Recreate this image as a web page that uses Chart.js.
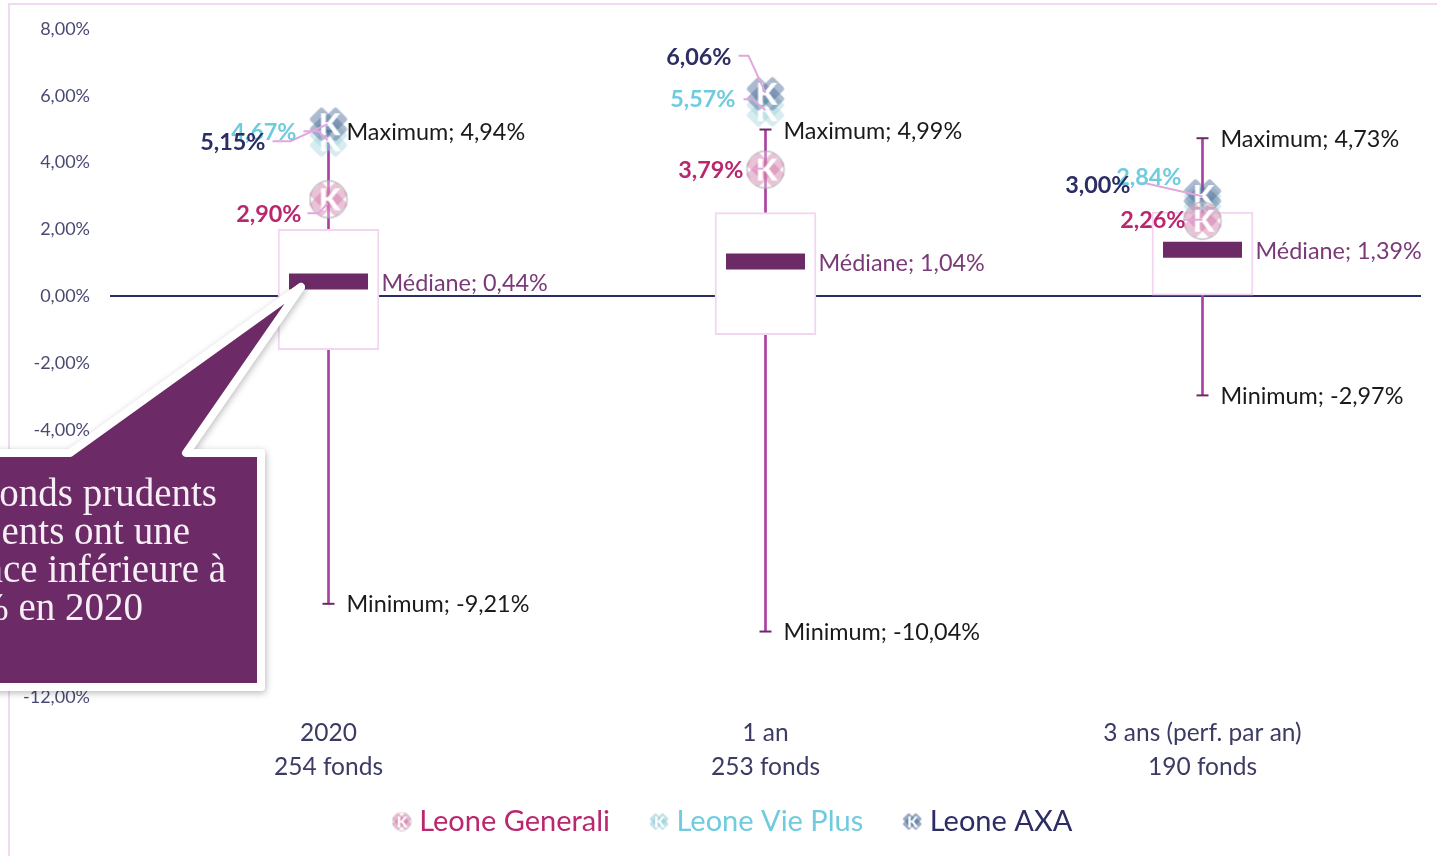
<!DOCTYPE html>
<html lang="fr">
<head>
<meta charset="utf-8">
<title>Performances des fonds prudents</title>
<script src="https://cdn.jsdelivr.net/npm/chart.js@4/dist/chart.umd.js"></script>
<style>
  html, body { margin: 0; padding: 0; background: #fff; overflow: hidden; }
  canvas { display: block; }
</style>
</head>
<body>
<canvas id="chart" width="1437" height="856"></canvas>
<script>
// Data
const categories = [["2020", "254 fonds"], ["1 an", "253 fonds"], ["3 ans (perf. par an)", "190 fonds"]];
const yTicks = [8, 6, 4, 2, 0, -2, -4, -6, -8, -10, -12];
const maximum = [4.94, 4.99, 4.73];
const minimum = [-9.21, -10.04, -2.97];
const median = [0.44, 1.04, 1.39];
const boxTop = [2.0, 2.5, 2.52];
const boxBottom = [-1.6, -1.15, 0];
const generali = [2.90, 3.79, 2.26];
const viePlus = [4.67, 5.57, 2.84];
const axa = [5.15, 6.06, 3.00];
const calloutLines = ["fonds prudents", "ents ont une", "nce inférieure à", "% en 2020"];

const FONT = "Lato, 'Open Sans', sans-serif";
const pct = v => v.toFixed(2).replace(".", ",") + "%";

// The clover shaped "K" marker
function makeMarker(size, color, ring) {
  const c = document.createElement("canvas");
  c.width = c.height = size;
  const g = c.getContext("2d");
  const u = size / 40;
  g.translate(size / 2, size / 2);
  if (ring) {
    g.fillStyle = "rgba(255,255,255,0.35)";
    g.strokeStyle = "rgba(170,170,170,0.7)";
    g.lineWidth = 1.5 * u;
    g.beginPath();
    g.arc(0, 0, 18.5 * u, 0, Math.PI * 2);
    g.fill();
    g.stroke();
  }
  g.fillStyle = color;
  [[-7, -5], [7, -5], [-7, 5], [7, 5]].forEach(([dx, dy]) => {
    g.save();
    g.translate(dx * u, dy * u);
    g.rotate(Math.PI / 4);
    g.beginPath();
    g.roundRect(-9 * u, -9 * u, 18 * u, 18 * u, 3 * u);
    g.fill();
    g.restore();
  });
  g.fillStyle = "#fff";
  g.font = "900 " + 31 * u + "px Lato, sans-serif";
  g.textAlign = "center";
  g.textBaseline = "middle";
  g.fillText("K", 1 * u, 1 * u);
  return c;
}

const generaliColor = "#b9276f";
const vieColor = "#6fcbde";
const axaColor = "#2b2d63";
const generaliIcon = makeMarker(40, "rgba(205,110,160,0.42)", true);
const vieIcon = makeMarker(40, "rgba(150,205,215,0.38)", false);
const axaIcon = makeMarker(40, "rgba(80,110,155,0.48)", false);

// Marker labels: series value, text colour, right edge and centre of the label relative
// to the marker, then the bend of the leader line relative to the marker
const markerLabels = [
  { values: generali, color: generaliColor, place: [
    { dx: -27, dy: 15, bend: [[-21, 14], [-10, 14], [-1, 4]] },
    { dx: -22, dy: 1, bend: [[-13, -1], [-2, -1]] },
    { dx: -17, dy: 0, bend: [[-19, -1], [0, -1]] }] },
  { values: viePlus, color: vieColor, place: [
    { dx: -32, dy: -8, bend: [[-25, -9], [-10, -9], [-1, 0]] },
    { dx: -30, dy: -11, bend: [[-22, -11], [-13, -11], [0, 0]] },
    { dx: -21, dy: -24, bend: [[-65, -18], [-57, -18], [0, -5]] }] },
  { values: axa, color: axaColor, place: [
    { dx: -63, dy: 18, bend: [[-56, 17], [-38, 17], [-1, 0]] },
    { dx: -34, dy: -36, bend: [[-27, -38], [-17, -38], [0, -1]] },
    { dx: -72, dy: -11, bend: [] }] }
];

const framePlugin = {
  id: "frame",
  afterLayout(chart) {
    // legend sits right of the canvas centre and a bit higher in the reference
    chart.legend.left += 20;
    chart.legend.right += 20;
    chart.legend.top -= 10;
    chart.legend.bottom -= 10;
    // the x labels are clipped to the scale box, so let it reach the second line
    chart.scales.x.bottom = chart.height;
  },
  beforeDraw(chart) {
    const g = chart.ctx;
    g.save();
    g.strokeStyle = "#f2d9f2";
    g.lineWidth = 2;
    g.beginPath();
    g.moveTo(9, 856);
    g.lineTo(9, 4);
    g.lineTo(1437, 4);
    g.stroke();
    g.restore();
  }
};

const labelPlugin = {
  id: "valueLabels",
  afterDatasetsDraw(chart) {
    const g = chart.ctx;
    const x = chart.scales.x;
    const y = chart.scales.y;
    g.save();
    g.textBaseline = "middle";
    g.font = "23.4px " + FONT;
    g.textAlign = "left";
    categories.forEach((cat, i) => {
      const cx = x.getPixelForValue(i);
      g.fillStyle = "#1a1a1a";
      g.fillText("Maximum; " + pct(maximum[i]), cx + 18, y.getPixelForValue(maximum[i]) + 1.5);
      g.fillText("Minimum; " + pct(minimum[i]), cx + 18, y.getPixelForValue(minimum[i]) + 1);
      g.fillStyle = "#7a3a78";
      g.fillText("Médiane; " + pct(median[i]), cx + 53, y.getPixelForValue(median[i]) + 2);
    });
    // leader lines first, then the bold labels over them
    g.strokeStyle = "#e3a6dd";
    g.lineWidth = 2;
    markerLabels.forEach(series => {
      series.place.forEach((p, i) => {
        if (!p.bend.length) return;
        const cx = x.getPixelForValue(i);
        const cy = y.getPixelForValue(series.values[i]);
        g.beginPath();
        p.bend.forEach(([bx, by], k) => {
          if (k === 0) g.moveTo(cx + bx, cy + by);
          else g.lineTo(cx + bx, cy + by);
        });
        g.stroke();
      });
    });
    g.font = "bold 23.4px " + FONT;
    g.textAlign = "right";
    markerLabels.forEach(series => {
      g.fillStyle = series.color;
      series.place.forEach((p, i) => {
        const cx = x.getPixelForValue(i);
        const cy = y.getPixelForValue(series.values[i]);
        g.fillText(pct(series.values[i]), cx + p.dx, cy + p.dy);
      });
    });
    g.restore();
  }
};

const calloutPlugin = {
  id: "callout",
  afterDraw(chart) {
    const g = chart.ctx;
    const path = () => {
      g.beginPath();
      g.moveTo(-30, 453);
      g.lineTo(70, 453);
      g.lineTo(301, 287);
      g.lineTo(186, 453);
      g.lineTo(261, 453);
      g.lineTo(261, 687);
      g.lineTo(-30, 687);
      g.closePath();
    };
    g.save();
    g.lineJoin = "round";
    g.lineWidth = 8;
    g.strokeStyle = "#fff";
    g.shadowColor = "rgba(0,0,0,0.28)";
    g.shadowBlur = 7;
    g.shadowOffsetX = 1;
    g.shadowOffsetY = 2;
    path();
    g.stroke();
    g.shadowColor = "transparent";
    g.fillStyle = "#6c2a66";
    path();
    g.fill();
    g.stroke();
    g.fillStyle = "#f6eff6";
    g.font = "39px 'Liberation Serif', serif";
    g.textAlign = "right";
    g.textBaseline = "alphabetic";
    const ends = [217, 190, 226, 143];
    calloutLines.forEach((line, i) => {
      g.fillText(line, ends[i], 505.5 + i * 38.2);
    });
    g.restore();
  }
};

new Chart(document.getElementById("chart"), {
  type: "bar",
  plugins: [framePlugin, labelPlugin, calloutPlugin],
  data: {
    labels: categories,
    datasets: [
      {
        type: "line", label: "Leone Generali", data: generali, showLine: false, order: 1,
        pointStyle: generaliIcon, pointRadius: 20, pointHoverRadius: 20
      },
      {
        type: "line", label: "Leone AXA", data: axa, showLine: false, order: 2,
        pointStyle: axaIcon, pointRadius: 20, pointHoverRadius: 20
      },
      {
        type: "line", label: "Leone Vie Plus", data: viePlus, showLine: false, order: 3,
        pointStyle: vieIcon, pointRadius: 20, pointHoverRadius: 20
      },
      {
        type: "line", label: "Médiane", data: median, showLine: false, order: 4,
        pointStyle: "line", pointRadius: 39.5, pointBorderWidth: 16,
        pointBorderColor: "#6c2a66", pointBackgroundColor: "#6c2a66"
      },
      {
        label: "Boîte", order: 5, grouped: false, barThickness: 101,
        data: categories.map((c, i) => [boxBottom[i], boxTop[i]]),
        backgroundColor: "#fff", borderColor: "#f2d5f0", borderWidth: 2, borderSkipped: false
      },
      {
        type: "line", label: "Maximum", data: maximum, showLine: false, order: 6,
        pointStyle: "line", pointRadius: 6, pointBorderWidth: 2, pointBorderColor: "#6c2a66"
      },
      {
        type: "line", label: "Minimum", data: minimum, showLine: false, order: 6,
        pointStyle: "line", pointRadius: 6, pointBorderWidth: 2, pointBorderColor: "#6c2a66"
      },
      {
        label: "Étendue", order: 7, grouped: false, barThickness: 2,
        data: categories.map((c, i) => [minimum[i], maximum[i]]),
        backgroundColor: "#ab3fa3"
      }
    ]
  },
  options: {
    responsive: false,
    animation: false,
    events: [],
    layout: { autoPadding: false, padding: { left: 10, right: 16, top: 29, bottom: 0 } },
    plugins: {
      tooltip: { enabled: false },
      legend: {
        position: "bottom",
        labels: {
          usePointStyle: true,
          pointStyleWidth: 6,
          padding: 46,
          font: { family: FONT, size: 29 },
          generateLabels: () => [
            { text: "Leone Generali", fontColor: generaliColor, pointStyle: makeMarker(20, "rgba(205,110,160,0.5)", true), datasetIndex: 0, lineWidth: 0 },
            { text: "Leone Vie Plus", fontColor: vieColor, pointStyle: makeMarker(20, "rgba(150,205,215,0.6)", false), datasetIndex: 2, lineWidth: 0 },
            { text: "Leone AXA", fontColor: axaColor, pointStyle: makeMarker(20, "rgba(80,110,155,0.6)", false), datasetIndex: 1, lineWidth: 0 }
          ]
        }
      }
    },
    scales: {
      x: {
        afterFit: s => { s.height = 74; s.paddingLeft = 0; s.paddingRight = 0; },
        grid: { display: false },
        border: { display: false },
        ticks: {
          color: "#3b3b63",
          padding: 11,
          font: { family: FONT, size: 24.5, lineHeight: 1.38 },
          maxRotation: 0
        }
      },
      y: {
        min: -12,
        max: 8,
        afterFit: s => { s.width = 100; s.paddingTop = 0; s.paddingBottom = 0; },
        afterBuildTicks: s => { s.ticks = yTicks.map(value => ({ value })); },
        grid: {
          drawTicks: false,
          lineWidth: 2,
          color: c => (c.tick.value === 0 ? "#2b2d63" : "transparent")
        },
        border: { display: false },
        ticks: {
          color: "#4a4b74",
          padding: 20,
          font: { family: FONT, size: 18 },
          callback: v => pct(v)
        }
      }
    }
  }
});
</script>
</body>
</html>
